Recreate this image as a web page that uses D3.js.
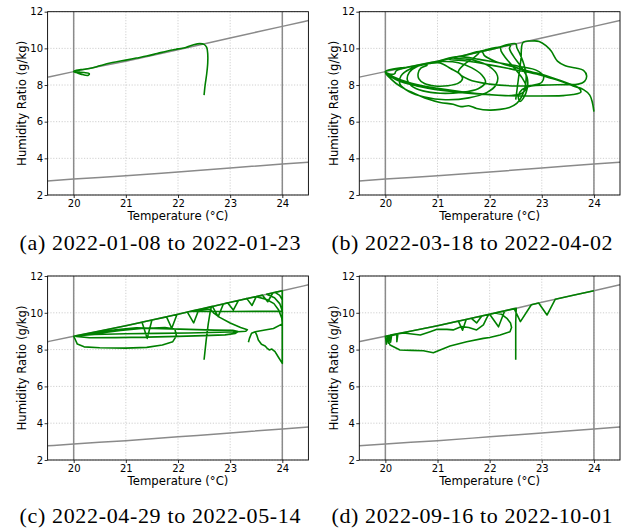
<!DOCTYPE html>
<html>
<head>
<meta charset="utf-8">
<title>Humidity ratio vs temperature</title>
<style>
  body { margin: 0; background: #fff; }
  .tick text { font-family: "DejaVu Sans", sans-serif; font-size: 10px; fill: #000; }
  .tick line { stroke: #000; stroke-width: 0.8; }
  .axis-label { font-family: "DejaVu Sans", sans-serif; font-size: 11.7px; fill: #000; }
  .caption { font-family: "Liberation Serif", serif; font-size: 22px; fill: #000; text-anchor: middle; }
  .grid line { stroke: #c4c4c4; stroke-width: 0.8; stroke-dasharray: 1.2,1.6; }
  .limit { fill: none; stroke: #8a8a8a; stroke-width: 1.5; }
  .traj { fill: none; stroke: #008000; stroke-width: 1.6; stroke-linejoin: round; }
  .frame { fill: none; stroke: #000; stroke-width: 0.9; }
</style>
</head>
<body>
<svg width="632" height="529"></svg>
<script src="https://d3js.org/d3.v7.min.js"></script>
<script>

// ticks and captions
var xTicks = [20, 21, 22, 23, 24];
var yTicks = [2, 4, 6, 8, 10, 12];
var captions = ["(a) 2022-01-08 to 2022-01-23", "(b) 2022-03-18 to 2022-04-02",
                "(c) 2022-04-29 to 2022-05-14", "(d) 2022-09-16 to 2022-10-01"];

// comfort limits (grey lines)
var limitTemps = [20, 24];
var boundTemp  = [19.5, 20, 21, 22, 23, 24, 24.5];
var upperLimit = [8.43, 8.73, 9.3, 9.92, 10.57, 11.2, 11.52];
var lowerLimit = [2.77, 2.87, 3.05, 3.26, 3.47, 3.69, 3.79];

// trajectories [temperature, humidity ratio]
var trajA = [[22.5,7.45],[22.52,8.0],[22.55,8.6],[22.57,9.2],[22.57,9.7],[22.55,10.05],[22.5,10.22],[22.42,10.26],
  [22.3,10.2],[22.15,10.05],[22.0,9.97],[21.8,9.86],[21.6,9.72],[21.4,9.58],[21.2,9.47],[21.0,9.36],[20.85,9.28],
  [20.7,9.2],[20.5,9.05],[20.35,8.93],[20.2,8.86],[20.05,8.8],[20.0,8.74],[20.05,8.7],[20.2,8.68],[20.3,8.62],
  [20.28,8.53],[20.15,8.58],[20.05,8.68],[20.0,8.72],[20.02,8.78],[20.12,8.8]];

var trajB = [[22.5,7.2],[22.55,8.3],[22.6,9.4],[22.64,10.32],
  [22.8,10.4],[22.95,10.38],[23.08,10.15],[23.18,9.85],[23.3,9.3],[23.45,9.05],[23.65,8.93],[23.8,8.8],[23.86,8.5],
  [23.82,8.2],[23.7,8.05],[23.45,8.02],[23.1,8.0],[22.8,7.95],[22.62,7.75],[22.55,7.4],[22.58,7.1],[22.65,7.3],
  [22.72,7.8],[22.72,8.4],[22.6,9.0],[22.45,9.6],[22.38,10.0],[22.4,10.16],
  [22.0,9.92],[21.5,9.61],[21.0,9.3],[20.5,9.01],[20.0,8.73],
  [20.15,8.45],[20.5,8.1],[21.0,7.82],[21.5,7.62],[22.0,7.48],[22.4,7.42],[22.62,7.55],[22.7,7.9],[22.62,8.4],
  [22.45,9.0],[22.3,9.5],[22.22,9.85],[22.2,10.04],
  [21.6,9.67],[21.0,9.3],[20.5,9.01],[20.0,8.73],
  [20.1,8.35],[20.3,7.9],[20.55,7.55],[20.8,7.25],[21.05,7.05],[21.3,6.95],[21.45,6.82],[21.6,6.87],[21.75,6.72],
  [22.0,6.63],[22.2,6.67],[22.38,6.78],[22.52,7.0],[22.62,7.4],[22.68,7.9],[22.7,8.5],[22.66,9.1],[22.58,9.7],
  [22.52,10.05],[22.5,10.25],
  [22.0,9.92],[21.5,9.61],[21.3,9.48],
  [21.7,9.35],[22.0,9.0],[22.15,8.5],[22.12,8.0],[21.95,7.6],[21.6,7.3],[21.15,7.2],[20.75,7.35],[20.45,7.65],
  [20.28,8.05],[20.3,8.5],[20.5,8.92],[20.8,9.15],[21.1,9.28],
  [21.4,9.22],[21.65,8.95],[21.85,8.55],[21.92,8.15],[21.78,7.8],[21.45,7.6],[21.05,7.55],[20.72,7.68],[20.5,7.95],
  [20.42,8.3],[20.46,8.7],[20.6,9.0],[20.85,9.17],[21.05,9.2],
  [21.25,8.9],[21.42,8.62],[21.48,8.35],[21.4,8.1],[21.2,7.96],[20.95,7.95],[20.75,8.08],[20.64,8.35],[20.63,8.65],
  [20.68,8.92],[20.8,9.08],[20.7,9.12],[20.4,8.95],[20.0,8.73],
  [20.2,8.3],[20.6,7.95],[21.1,7.7],[21.7,7.52],[22.3,7.42],[22.9,7.4],[23.4,7.42],[23.6,7.48],[23.75,7.62],
  [23.7,7.85],[23.5,8.1],[23.2,8.4],[22.9,8.65],[22.5,8.95],[22.1,9.3],[21.9,9.6],[21.85,9.83],
  [21.5,9.61],[21.0,9.3],[20.5,9.01],[20.0,8.73],
  [20.08,8.6],[20.18,8.62],[20.2,8.75],[20.3,8.88],[20.6,9.07],[21.0,9.3],[21.4,9.55],
  [21.8,9.4],[22.2,9.2],[22.6,9.0],[22.9,8.8],[23.03,8.5],[23.0,8.15],[22.85,8.0],[22.5,7.95],[22.0,8.05],
  [21.6,8.3],[21.4,8.7],[21.5,9.1],[21.7,9.5],[21.8,9.78],
  [21.5,9.61],[21.2,9.42],
  [21.6,9.3],[22.0,9.1],[22.4,8.88],[22.9,8.6],[23.2,8.35],[23.45,8.12],[23.6,7.95],[23.8,7.75],[23.92,7.45],
  [23.97,7.05],[24.0,6.55]];

var trajC = [[22.5,7.45],[22.54,8.5],[22.58,9.4],[22.62,10.1],[22.64,10.33],
  [22.3,10.12],[22.0,9.92],[21.5,9.61],[21.0,9.3],[20.5,9.01],[20.0,8.73],
  [20.03,8.55],[20.07,8.3],[20.2,8.15],[20.5,8.1],[21.0,8.08],[21.4,8.12],[21.7,8.25],[21.9,8.43],[21.97,8.75],
  [21.94,9.12],[21.75,9.2],[21.3,9.15],[20.9,9.04],[20.45,8.88],[20.05,8.72],
  [20.3,8.64],[20.8,8.65],[21.4,8.68],[22.0,8.72],[22.5,8.76],[22.9,8.8],[23.1,8.88],[23.15,8.98],[23.05,9.05],
  [22.7,9.06],[22.2,9.1],[21.7,9.14],[21.2,9.18],[20.8,9.08],[20.4,8.9],[20.08,8.76],
  [20.4,8.82],[21.0,8.86],[21.6,8.88],[22.2,8.9],[22.8,8.94],[23.15,8.97],[23.3,9.0],[23.33,9.08],[23.2,9.2],
  [23.0,9.45],[22.8,9.75],[22.68,10.0],[22.62,10.2],
  [22.3,10.12],[22.0,9.92],[21.5,9.61],[21.0,9.3],[20.5,9.01],[20.02,8.74],
  [20.5,9.01],[21.0,9.3],[21.31,9.49],[21.41,8.61],[21.5,9.61],[21.78,9.78],[21.88,9.16],[21.98,9.91],[22.18,10.04],
  [22.3,9.45],[22.4,10.18],[22.66,10.35],[22.77,9.79],[22.87,10.48],[22.95,10.54],[23.06,10.15],[23.16,10.67],
  [23.32,10.77],[23.42,10.4],[23.5,10.88],[23.62,10.96],[23.72,10.6],[23.82,11.09],[24.0,11.2],
  [24.0,10.08],[23.5,10.08],[23.0,10.07],[22.5,10.07],[22.24,10.07],
  [22.7,10.37],[23.2,10.7],[23.5,10.88],
  [23.7,10.72],[23.84,10.5],[23.93,10.15],[23.99,9.7],[24.0,9.45],[24.0,11.2],
  [23.7,11.01],[23.85,10.82],[23.95,10.5],[24.0,10.1],[24.0,11.2],
  [23.86,11.11],[23.95,10.95],[24.0,10.7],[24.0,11.2],
  [24.0,9.0],[24.0,7.25],
  [23.92,7.61],[23.86,7.89],[23.8,8.03],[23.75,7.98],[23.71,8.07],[23.67,8.2],[23.6,8.29],[23.54,8.52],
  [23.51,8.79],[23.48,8.97],
  [23.64,9.05],[23.83,9.15],[24.0,9.4],[23.83,9.15],[23.64,9.05],[23.48,8.97],
  [23.41,8.89],[23.37,8.61],[23.35,8.4]];

var trajD = [[22.5,7.45],[22.5,8.5],[22.5,9.5],[22.51,10.24],
  [22.2,10.05],[21.85,9.83],[21.75,9.45],[21.65,9.7],[21.55,9.64],[21.48,9.05],[21.4,9.55],[21.0,9.3],[20.5,9.01],
  [20.0,8.73],
  [20.02,8.3],[20.04,8.74],[20.06,8.35],[20.08,8.76],[20.1,8.4],[20.12,8.77],[20.22,8.83],[20.22,8.43],
  [20.24,8.84],[20.12,8.77],[20.05,8.74],
  [20.05,8.5],[20.09,8.25],[20.28,7.98],[20.5,7.96],[20.73,7.94],[20.92,7.83],[21.05,7.98],[21.24,8.2],
  [21.56,8.43],[21.88,8.61],[22.0,8.66],[22.2,8.79],[22.39,8.97],[22.42,9.2],[22.4,9.45],[22.33,9.7],
  [22.23,9.92],[22.1,9.99],
  [21.5,9.61],[21.0,9.3],[20.5,9.01],[20.1,8.79],
  [20.35,8.9],[20.67,8.79],[20.86,8.97],[20.99,9.1],[21.18,9.1],[21.3,9.07],[21.46,9.25],[21.6,9.2],[21.75,9.07],
  [21.88,9.34],[21.94,9.7],[21.98,9.9],
  [22.0,9.92],[22.17,9.24],[22.29,10.11],[22.47,10.23],[22.59,9.52],[22.8,10.44],[22.94,10.53],[23.1,9.88],
  [23.26,10.74],[23.6,10.95],[24.0,11.2]];

var trajs = [trajA, trajB, trajC, trajD];

// panel boxes
var layout = [
  {left: 47.6,  top: 11.7, width: 260.8, height: 183.3, capX: 160, capY: 250},
  {left: 359.3, top: 11.7, width: 260.7, height: 183.3, capX: 472, capY: 250},
  {left: 47.6,  top: 276,  width: 260.8, height: 184,   capX: 160, capY: 523},
  {left: 359.3, top: 276,  width: 260.7, height: 184,   capX: 472, capY: 523}
];

var svg = d3.select("svg");

layout.forEach(function(p, i) {
  var x = d3.scaleLinear().domain([19.5, 24.5]).range([0, p.width]);
  var y = d3.scaleLinear().domain([2, 12]).range([p.height, 0]);

  var g = svg.append("g").attr("transform", "translate(" + p.left + "," + p.top + ")");

  g.append("clipPath").attr("id", "clip" + i)
    .append("rect").attr("width", p.width).attr("height", p.height);

  // grid
  var grid = g.append("g").attr("class", "grid");
  grid.selectAll(".gx").data(xTicks).enter().append("line")
    .attr("x1", function(d) { return x(d); }).attr("x2", function(d) { return x(d); })
    .attr("y1", 0).attr("y2", p.height);
  grid.selectAll(".gy").data(yTicks).enter().append("line")
    .attr("y1", function(d) { return y(d); }).attr("y2", function(d) { return y(d); })
    .attr("x1", 0).attr("x2", p.width);

  var plot = g.append("g").attr("clip-path", "url(#clip" + i + ")");

  // limits
  plot.selectAll(".vlim").data(limitTemps).enter().append("line")
    .attr("class", "limit")
    .attr("x1", function(d) { return x(d); }).attr("x2", function(d) { return x(d); })
    .attr("y1", 0).attr("y2", p.height);

  var limLine = d3.line().curve(d3.curveMonotoneX)
    .x(function(d, k) { return x(boundTemp[k]); })
    .y(function(d) { return y(d); });
  plot.append("path").attr("class", "limit").attr("d", limLine(upperLimit));
  plot.append("path").attr("class", "limit").attr("d", limLine(lowerLimit));

  // trajectory
  var line = d3.line()
    .x(function(d) { return x(d[0]); })
    .y(function(d) { return y(d[1]); })
    .curve(i < 2 ? d3.curveCatmullRom.alpha(0.5) : d3.curveLinear);
  plot.append("path").attr("class", "traj").attr("d", line(trajs[i]));

  // axes
  var ax = g.append("g").attr("transform", "translate(0," + p.height + ")")
    .call(d3.axisBottom(x).tickValues(xTicks).tickFormat(d3.format("d")).tickSize(3).tickPadding(1.8));
  var ay = g.append("g")
    .call(d3.axisLeft(y).tickValues(yTicks).tickFormat(d3.format("d")).tickSize(3).tickPadding(1.5));
  ax.select(".domain").remove();
  ay.select(".domain").remove();
  ax.selectAll("text").attr("font-family", null).attr("font-size", null);
  ay.selectAll("text").attr("font-family", null).attr("font-size", null);

  g.append("rect").attr("class", "frame").attr("width", p.width).attr("height", p.height);

  g.append("text").attr("class", "axis-label")
    .attr("x", p.width / 2).attr("y", p.height + 25)
    .attr("text-anchor", "middle")
    .text("Temperature (°C)");

  g.append("text").attr("class", "axis-label")
    .attr("transform", "translate(-21.5," + (p.height / 2) + ") rotate(-90)")
    .attr("text-anchor", "middle")
    .text("Humidity Ratio (g/kg)");

  svg.append("text").attr("class", "caption")
    .attr("x", p.capX).attr("y", p.capY)
    .attr("textLength", 281).attr("lengthAdjust", "spacing")
    .text(captions[i]);
});

</script>
</body>
</html>
